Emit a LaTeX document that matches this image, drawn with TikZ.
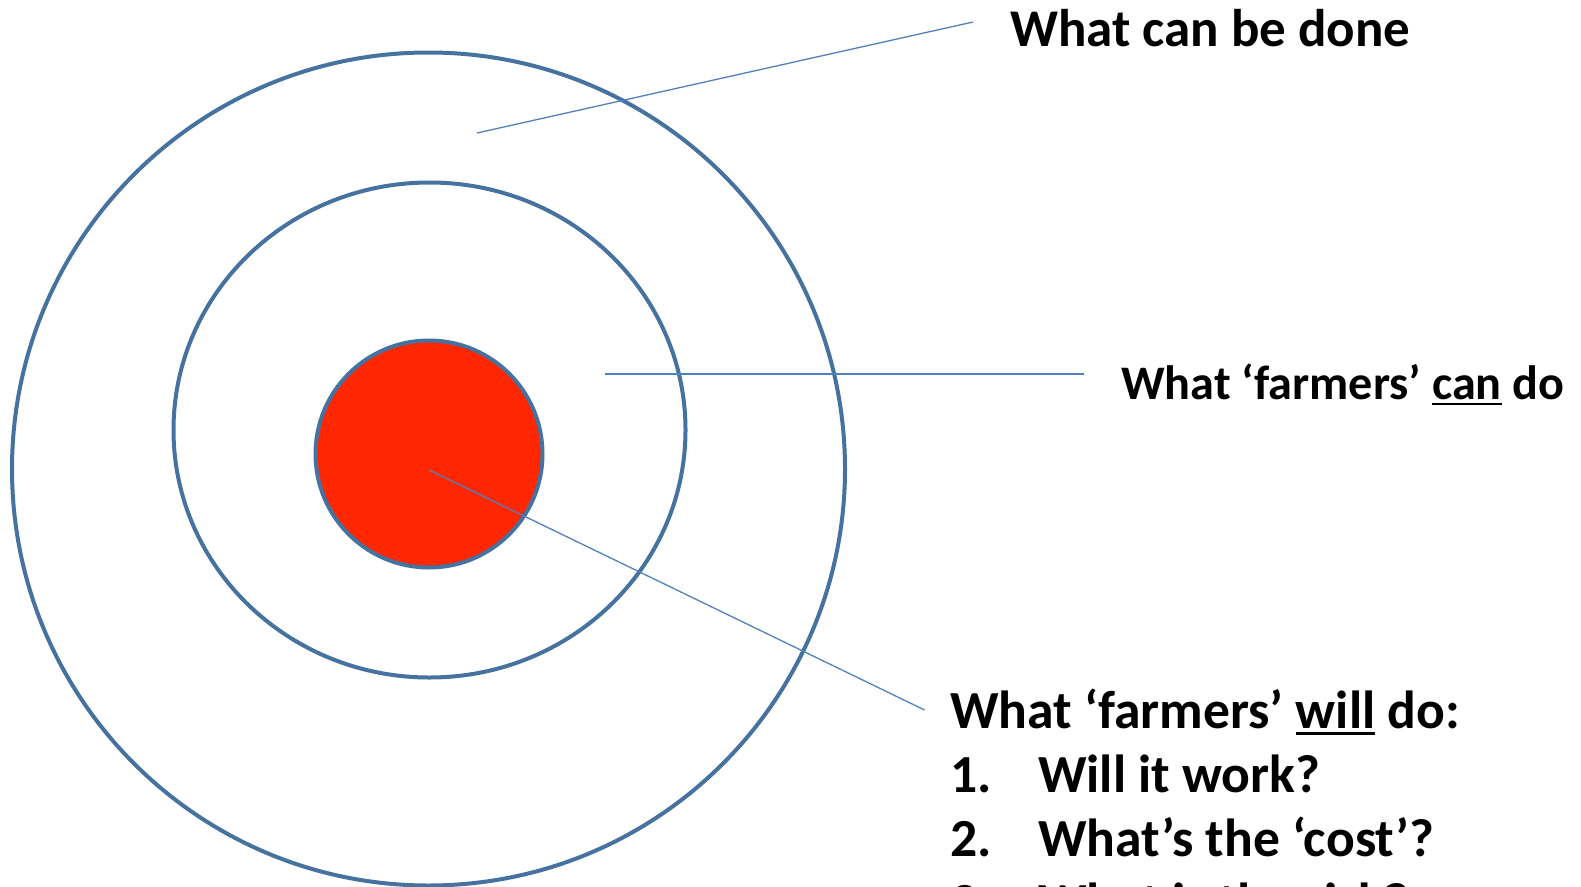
\documentclass[tikz,border=0pt]{standalone}
\usepackage{fontspec}
\setmainfont{Carlito}
\usepackage{tikz}
\usetikzlibrary{shapes.geometric,positioning,calc}
\definecolor{RingBlue}{HTML}{4672A0}
\definecolor{LeaderBlue}{HTML}{4F81BD}
\definecolor{TargetRed}{HTML}{FF2600}
\newcommand\ulword[1]{\setbox0\hbox{#1}\rlap{\rule[-0.13em]{\wd0}{0.055em}}\box0\relax}

\begin{document}
\begin{tikzpicture}[x=1pt,y=-1pt,
    ring/.style={draw=RingBlue,line width=4pt,inner sep=0pt},
    leader/.style={LeaderBlue,line width=1.3pt},
    label/.style={anchor=base west,inner sep=0pt,align=left,font=\bfseries\fontsize{53}{64}\selectfont}]
  \useasboundingbox (0,0) rectangle (1581,886);
  \node[ring,circle,minimum size=833pt] (outer) at (428.5,469) {};
  \node[ring,ellipse,minimum width=512pt,minimum height=495pt] (middle) at (429.5,430) {};
  \node[ring,circle,fill=TargetRed,minimum size=227pt] (inner) at (429,454) {};
  \node[label] (done) at (1010,46.5) {What can be done};
  \node[label,font=\bfseries\fontsize{48.2}{58}\selectfont] (can) at (1121,399) {What ‘farmers’ \ulword{can} do};
  % base of a multi-line node is its last line
  \node[label,font=\bfseries\fontsize{53.6}{64}\selectfont] (will) at (950,920) {What ‘farmers’ \ulword{will} do:\\
    \makebox[88pt][l]{1.}Will it work?\\
    \makebox[88pt][l]{2.}What’s the ‘cost’?\\
    \makebox[88pt][l]{3.}What is the risk?};
  \coordinate (doneTip) at (973,22);
  \coordinate (doneIn) at (477,133);
  \coordinate (canTip) at (1084,374);
  \coordinate (canIn) at (605,374);
  \coordinate (willTip) at (924.6,710);
  \draw[leader] (doneIn) -- (doneTip);
  \draw[leader] (canIn) -- (canTip);
  \draw[leader] ($(inner.center)+(0,16)$) -- (willTip);
\end{tikzpicture}
\end{document}
